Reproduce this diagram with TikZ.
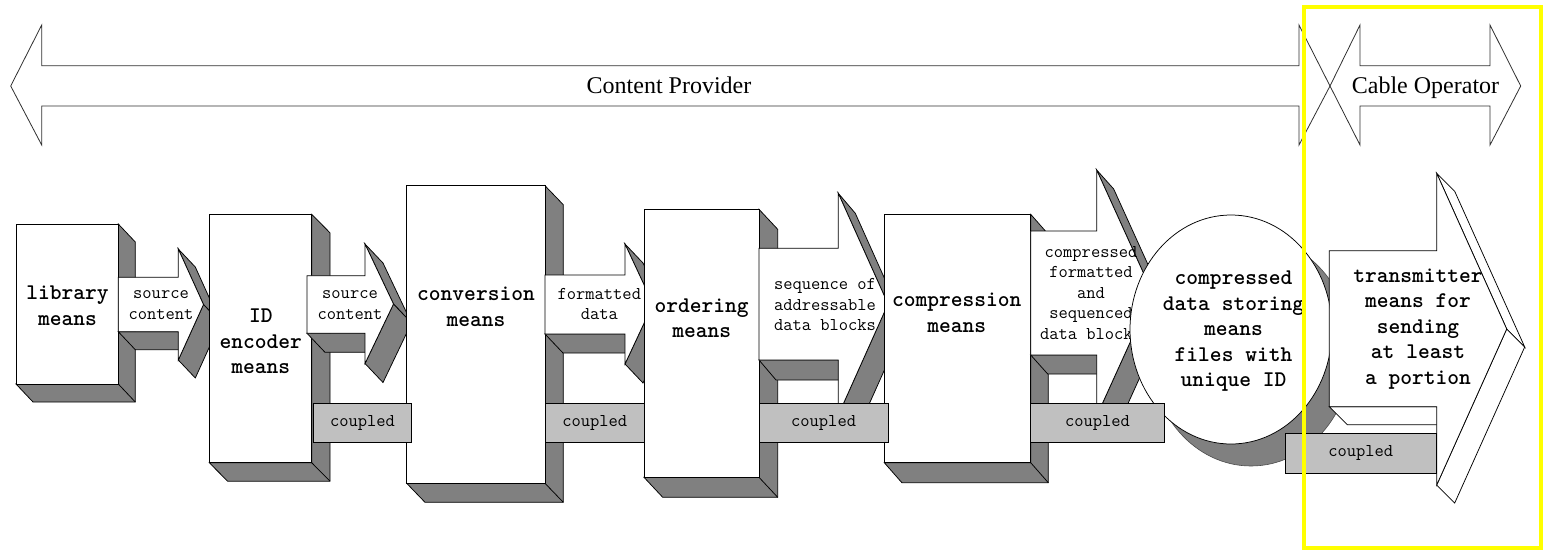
\documentclass[tikz,border=0pt]{standalone}
\usepackage{fontspec}
\setmainfont{Liberation Serif}
\newfontfamily\cour{Liberation Mono}
\definecolor{extgray}{HTML}{808080}
\definecolor{coupgray}{HTML}{C0C0C0}
\definecolor{hiyellow}{HTML}{FFFF00}
\definecolor{outl}{HTML}{303030}
% 3D box: L T R B dx dy
\newcommand\tdbox[6]{%
  \filldraw[ext] (#3,#2) -- ({#3+#5},{#2+#6}) -- ({#3+#5},{#4+#6}) -- ({#1+#5},{#4+#6}) -- (#1,#4) -- (#3,#4) -- cycle;
  \draw[edge] (#3,#4) -- ({#3+#5},{#4+#6});
  \filldraw[front] (#1,#2) rectangle (#3,#4);
}
% 3D block arrow: sL sT sB hX hT hB tipX tipY sidestyle ; depth in \dx \dy
\newcommand\tdarrow[9]{%
  \filldraw[#9] (#1,#3) -- (#4,#3) -- ({#4+\dx},{#3+\dy}) -- ({#1+\dx},{#3+\dy}) -- cycle;
  \filldraw[#9] (#4,#5) -- (#7,#8) -- ({#7+\dx},{#8+\dy}) -- ({#4+\dx},{#5+\dy}) -- cycle;
  \filldraw[#9] (#7,#8) -- (#4,#6) -- ({#4+\dx},{#6+\dy}) -- ({#7+\dx},{#8+\dy}) -- cycle;
  \filldraw[front] (#1,#2) -- (#4,#2) -- (#4,#5) -- (#7,#8) -- (#4,#6) -- (#4,#3) -- (#1,#3) -- cycle;
}
\begin{document}
\begin{tikzpicture}[x=1pt,y=-1pt,
  edge/.style={draw=black,line width=0.75pt},
  ext/.style={fill=extgray,draw=black,line width=0.75pt},
  wext/.style={fill=white,draw=black,line width=0.75pt},
  front/.style={fill=white,draw=black,line width=0.75pt},
  coup/.style={fill=coupgray,draw=black,line width=0.75pt},
  big/.style={font=\ttfamily\bfseries\fontsize{22.4}{25.5}\selectfont,align=center,inner sep=0pt},
  small/.style={font=\ttfamily\fontsize{18}{20.5}\selectfont,align=center,inner sep=0pt},
  ctext/.style={font=\fontsize{24}{28}\selectfont,inner sep=0pt,anchor=base},
  band/.style={fill=white,draw=outl,line width=0.8pt}]
\useasboundingbox (0,0) rectangle (1543,550);

% top double arrows
\filldraw[band] (10.7,86) -- (41.7,25) -- (41.7,65.7) -- (1299,65.7) -- (1299,25) -- (1330,86)
  -- (1299,145) -- (1299,106) -- (41.7,106) -- (41.7,145) -- cycle;
\filldraw[band] (1330,86) -- (1360,25) -- (1360,65.7) -- (1490,65.7) -- (1490,25) -- (1520.7,86)
  -- (1490,145) -- (1490,106) -- (1360,106) -- (1360,145) -- cycle;
\node[ctext] (cp) at (669,93.3) {Content Provider};
\node[ctext] (co) at (1425.5,93.3) {Cable Operator};

% library means
\tdbox{16}{224}{118.3}{384}{17}{18}
\node[big] (lib) at (67.5,305.5) {library\\means};
\def\dx{17}\def\dy{18}
\tdarrow{118.3}{277.3}{331.7}{178.3}{249}{360}{203.5}{304.5}{ext}
\node[small] (sc1) at (161,305) {source\\content};

% ID encoder means
\tdbox{209.3}{214.3}{311.7}{462.7}{18.3}{18.5}
\node[big] (enc) at (260.8,341.5) {ID\\encoder\\means};
\def\dx{18}\def\dy{19}
\tdarrow{307}{275.7}{333.3}{365}{244}{363.5}{393.5}{304}{ext}
\node[small] (sc2) at (350,305) {source\\content};

% conversion means
\tdbox{406.7}{185.7}{545}{483.3}{18.3}{19}
\node[big] (conv) at (476,307) {conversion\\means};
\tdarrow{545}{275}{334}{625}{244}{364}{653}{304}{ext}
\node[small] (fd) at (599.3,304) {formatted\\data};

% ordering means
\tdbox{644}{209.3}{759}{477.3}{18.7}{20}
\node[big] (ord) at (701.7,318) {ordering\\means};
\def\dx{17}\def\dy{20}
\tdarrow{759}{248.3}{360}{838.3}{193.3}{415}{888}{304}{ext}
\node[small] (seq) at (825,304.5) {sequence of\\addressable\\data blocks};

% compression means
\tdbox{884.3}{214.3}{1030.7}{462.7}{17.6}{20}
\node[big] (comp) at (956.7,313) {compression\\means};
\def\dx{17}\def\dy{19}
\tdarrow{1030.7}{231}{355}{1096.7}{170}{416}{1152.5}{293}{ext}
\node[small] (cfs) at (1091,293) {compressed\\formatted\\and\\sequenced\\data blocks};

% storing circle
\filldraw[fill=extgray,draw=black!70,line width=0.6pt] (1251,351.5) ellipse [x radius=101, y radius=114.5];
\filldraw[front] (1231,329.5) ellipse [x radius=101, y radius=114.5];
\node[big] (store) at (1233.5,331.5) {compressed\\data storing\\means\\files with\\unique ID};

% transmitter
\def\dx{18}\def\dy{18}
\tdarrow{1329.3}{250.7}{406.7}{1436.7}{173.3}{485}{1506.7}{329}{wext}
\node[big] (tx) at (1418,329) {transmitter\\means for\\sending\\at least\\a portion};

% coupled boxes
\filldraw[coup] (313.3,403.3) rectangle (411.7,442.7);
\node[small] (c1) at (362.5,423) {coupled};
\filldraw[coup] (545.7,403.3) rectangle (644,442.7);
\node[small] (c2) at (594.8,423) {coupled};
\filldraw[coup] (759,403.3) rectangle (888.3,442.7);
\node[small] (c3) at (823.6,423) {coupled};
\filldraw[coup] (1030.7,403.3) rectangle (1164.3,442.7);
\node[small] (c4) at (1097.5,423) {coupled};
\filldraw[coup] (1285,433.3) rectangle (1436.5,473.3);
\node[small] (c5) at (1360.7,452.5) {coupled};

% highlight frame
\draw[hiyellow,line width=4.5pt] (1304.2,7.2) rectangle (1540.8,547.8);
\end{tikzpicture}
\end{document}
